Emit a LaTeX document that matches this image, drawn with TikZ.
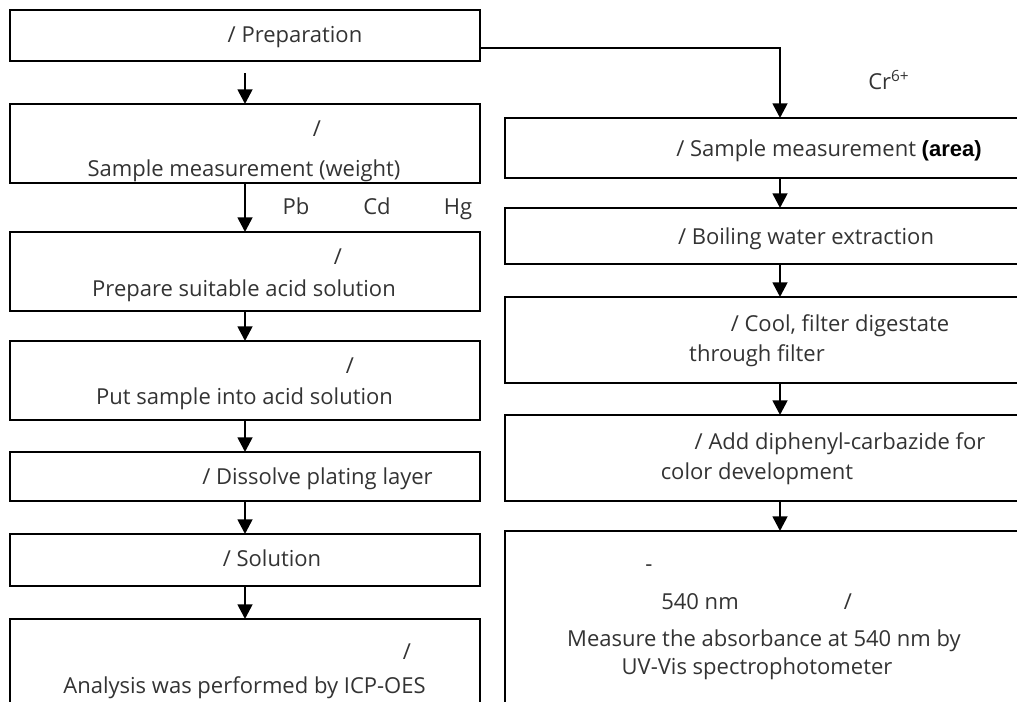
\documentclass[tikz,border=0pt]{standalone}
\usepackage{fontspec}
\setmainfont{Open Sans}
\newfontfamily\arialf{Liberation Sans}
\usetikzlibrary{arrows.meta}
\tikzset{
  box/.style={draw=black, line width=1.6pt, rectangle, anchor=north west, inner sep=0pt, outer sep=0pt},
  txt/.style={anchor=base, inner sep=0pt, text=black!80, font=\fontsize{16.5}{19}\selectfont, yshift=-5.2pt},
  arr/.style={line width=2pt, -{Triangle[width=11pt,length=11pt]}}
}
\begin{document}
\begin{tikzpicture}[x=0.75pt,y=-0.75pt]
\useasboundingbox (0,0) rectangle (1017,701);
\clip (0,0) rectangle (1017,701);
% left column
\node[box, minimum width={470*0.75pt}, minimum height={51*0.75pt}] (p1) at (10,10) {};
\node[box, minimum width={470*0.75pt}, minimum height={79*0.75pt}] (p2) at (10,104) {};
\node[box, minimum width={470*0.75pt}, minimum height={79*0.75pt}] (p3) at (10,232) {};
\node[box, minimum width={470*0.75pt}, minimum height={79*0.75pt}] (p4) at (10,341) {};
\node[box, minimum width={470*0.75pt}, minimum height={49*0.75pt}] (p5) at (10,452) {};
\node[box, minimum width={470*0.75pt}, minimum height={52*0.75pt}] (p6) at (10,534) {};
\node[box, minimum width={470*0.75pt}, minimum height={111*0.75pt}] (p7) at (10,619) {};
% right column
\node[box, minimum width={535*0.75pt}, minimum height={60*0.75pt}] (r1) at (505,118) {};
\node[box, minimum width={535*0.75pt}, minimum height={56*0.75pt}] (r2) at (505,208) {};
\node[box, minimum width={535*0.75pt}, minimum height={86*0.75pt}] (r3) at (505,297) {};
\node[box, minimum width={535*0.75pt}, minimum height={86*0.75pt}] (r4) at (505,415) {};
\node[box, minimum width={535*0.75pt}, minimum height={189*0.75pt}] (r5) at (505,531) {};
% texts left
\node[txt] (t1) at (295,36) {/ Preparation};
\node[txt] (t2a) at (317,130) {/};
\node[txt] (t2b) at (244,170) {Sample measurement (weight)};
\node[txt] (pb) at (296,208) {Pb};
\node[txt] (cd) at (377,208) {Cd};
\node[txt] (hg) at (458,208) {Hg};
\node[txt] (t3a) at (338,258) {/};
\node[txt] (t3b) at (244,290) {Prepare suitable acid solution};
\node[txt] (t4a) at (350,367) {/};
\node[txt] (t4b) at (244.5,398) {Put sample into acid solution};
\node[txt] (t5) at (317.5,478) {/ Dissolve plating layer};
\node[txt] (t6) at (272,560) {/ Solution};
\node[txt] (t7a) at (407,653) {/};
\node[txt] (t7b) at (244.5,687) {Analysis was performed by ICP-OES};
% texts right
\node[txt, anchor=base west] (cr) at (868,83) {Cr\textsuperscript{6+}};
\node[txt] (s1) at (829,150) {/ Sample measurement {\arialf\bfseries\color{black}(area)}};
\node[txt] (s2) at (806,238) {/ Boiling water extraction};
\node[txt] (s3a) at (840,325) {/ Cool, filter digestate};
\node[txt] (s3b) at (757,355) {through filter};
\node[txt] (s4a) at (840,443) {/ Add diphenyl-carbazide for};
\node[txt] (s4b) at (757,473) {color development};
\node[txt] (s5a) at (649,565) {-};
\node[txt] (s5b) at (700,603) {540 nm};
\node[txt] (s5c) at (848,603) {/};
\node[txt] (s5d) at (764,640) {Measure the absorbance at 540 nm by};
\node[txt] (s5e) at (757,668) {UV-Vis spectrophotometer};
% connectors
\draw[arr, shorten <=9pt] (p1.south) -- (p2.north);
\draw[arr] (p2.south) -- (p3.north);
\draw[arr] (p3.south) -- (p4.north);
\draw[arr] (p4.south) -- (p5.north);
\draw[arr] (p5.south) -- (p6.north);
\draw[arr] (p6.south) -- (p7.north);
\coordinate (c1) at (480,48);
\coordinate (c2) at (780,48);
\draw[arr] (c1) -- (c2) -- (c2 |- r1.north);
\draw[arr] (c2 |- r1.south) -- (c2 |- r2.north);
\draw[arr] (c2 |- r2.south) -- (c2 |- r3.north);
\draw[arr] (c2 |- r3.south) -- (c2 |- r4.north);
\draw[arr] (c2 |- r4.south) -- (c2 |- r5.north);
\end{tikzpicture}
\end{document}
